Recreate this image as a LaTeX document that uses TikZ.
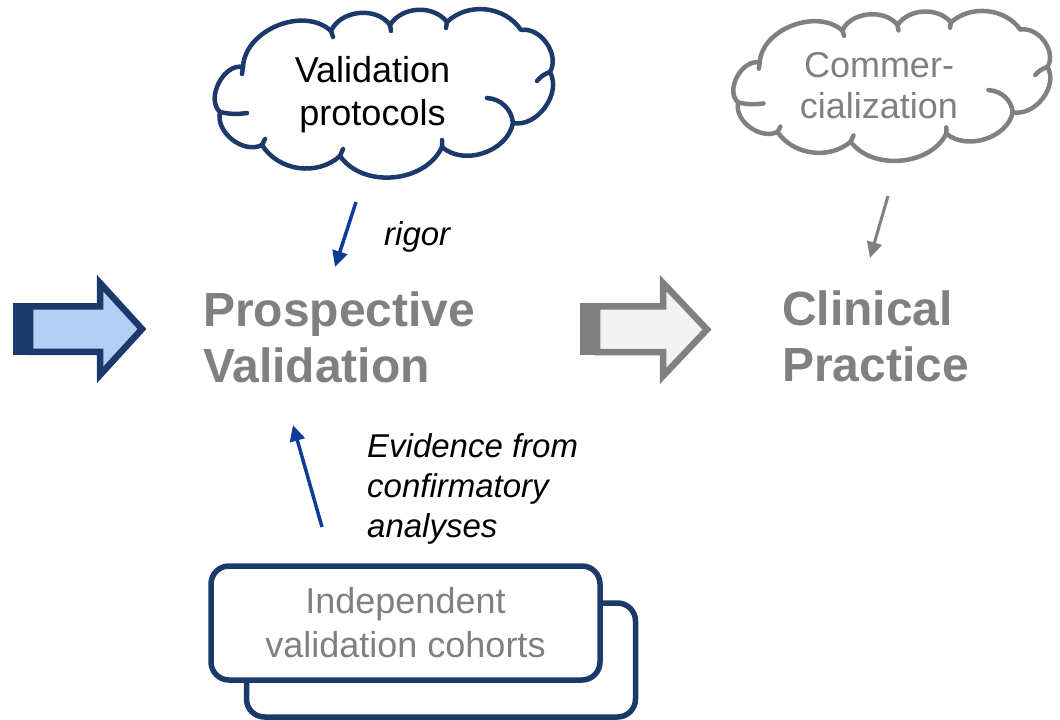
\documentclass[tikz,border=0pt]{standalone}
\usepackage{fontspec}
\setmainfont{Liberation Sans}
\usetikzlibrary{arrows.meta}

\definecolor{navy}{HTML}{1B3A6B}
\definecolor{paleblue}{HTML}{B5CEF5}
\definecolor{linkblue}{HTML}{0F3C96}
\definecolor{midgray}{HTML}{808080}
\definecolor{palegray}{HTML}{F2F2F2}

\tikzset{
  cloudline/.style={line width=4.5pt, line cap=round, line join=round},
  bigarrow/.style={line width=6.5pt, line join=miter},
  cardbox/.style={draw=navy, line width=5.5pt, rounded corners=18pt,
    minimum width=389pt, minimum height=114pt, inner sep=0pt},
  link/.style={line width=3.5pt, -{Triangle[length=16pt,width=15pt]}},
  cloudtext/.style={font=\fontsize{36}{43}\selectfont, align=center, inner sep=0pt},
  stagetext/.style={font=\fontsize{48}{56}\selectfont\bfseries, text=midgray,
    align=left, inner sep=0pt, anchor=base west},
  notetext/.style={font=\fontsize{33}{40}\selectfont\itshape, align=left,
    inner sep=0pt, anchor=base west},
  puffcloud/.pic={
    % outer outline, lobe by lobe
    \path[pic actions]
      (243,67) to[bend left=65] (331,31) to[bend left=60] (390,25)
      to[bend left=55] (447,22) to[bend left=50] (521,30)
      to[bend left=65] (550,72) to[bend left=65] (513,123)
      to[bend left=60] (442,147) to[bend left=60] (340,156)
      to[bend left=50] (262,145) to[bend left=65] (220,112)
      to[bend left=75] (243,67);
    % short inner curls where the lobes overlap
    \path[pic actions]
      (220,112) to[bend right=10] (247,113)
      (243,67) -- (242,74)
      (331,31) -- (333,37)
      (390,25) -- (391,31)
      (447,22) -- (446,28)
      (550,72) to[bend right=15] (537,81)
      (487,98) to[bend left=40] (513,123)
      (442,147) -- (442,140)
      (340,156) -- (343,149)
      (262,145) -- (265,139);
  }
}

\begin{document}
\begin{tikzpicture}[x=1pt, y=-1pt]
\useasboundingbox (0,0) rectangle (1060,720);

% clouds
\pic[draw=navy, cloudline] at (0,0) {puffcloud};
\begin{scope}[shift={(890.5,86.5)}, xscale=0.937, yscale=0.89, shift={(-382.5,-94)}]
  \pic[draw=midgray, cloudline, transform shape] at (0,0) {puffcloud};
\end{scope}
\node[cloudtext] (protocols) at (372.5,94.5) {Validation\\protocols};
\node[cloudtext, text=midgray, font=\fontsize{36}{41}\selectfont] (commerce) at (879,85.5) {Commer-\\cialization};

% striped block arrows
\fill[navy] (13,303) rectangle (33,355);
\draw[bigarrow, draw=navy, fill=paleblue]
  (30,306.25) -- (100,306.25) -- (100,283) -- (142,329) -- (100,375)
  -- (100,351.75) -- (30,351.75) -- cycle;
\fill[midgray] (580,303) rectangle (600,355);
\draw[bigarrow, draw=midgray, fill=palegray]
  (597,306.25) -- (663,306.25) -- (663,283) -- (707,329.5) -- (663,376)
  -- (663,352) -- (597,352) -- cycle;

% stage labels (anchored on the baseline of their last line)
\node[stagetext] (prospective) at (203,382) {Prospective\\Validation};
\node[stagetext] (clinical) at (782,381) {Clinical\\Practice};

% cohort cards
\node[cardbox] (cardback) at (441,660) {};
\node[cardbox, fill=white, text=midgray, font=\fontsize{36}{44}\selectfont, align=center]
  (cohorts) at (405.5,623) {Independent\\validation cohorts};

% connectors
\coordinate (rigorfrom) at (356,202);
\coordinate (rigorto) at (335,267);
\coordinate (commercefrom) at (888,196);
\coordinate (commerceto) at (870,258);
\coordinate (evidencefrom) at (322,527);
\coordinate (evidenceto) at (293,425);
\draw[link, linkblue] (rigorfrom) -- (rigorto);
\draw[link, midgray, line width=3pt] (commercefrom) -- (commerceto);
\draw[link, linkblue] (evidencefrom) -- (evidenceto);

% connector notes
\node[notetext] (rigor) at (384,245) {rigor};
\node[notetext] (evidence) at (367,537) {Evidence from\\confirmatory\\analyses};
\end{tikzpicture}
\end{document}
